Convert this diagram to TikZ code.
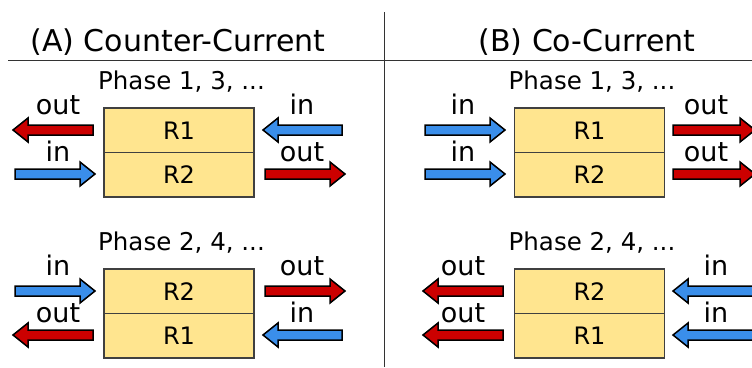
\documentclass[tikz,border=0pt]{standalone}
\usepackage{fontspec}
\setmainfont{DejaVu Sans}
\definecolor{boxfill}{HTML}{FFE58F}
\definecolor{boxline}{HTML}{404040}
\definecolor{hotred}{HTML}{CC0000}
\definecolor{coldblue}{HTML}{3A8EEA}
\definecolor{rule}{HTML}{333333}

% thick outlined block arrow: #1 fill colour, #2 tail x, #3 tip x, #4 centre y
\newcommand\flowarrow[4]{%
  \pgfmathsetmacro\arrdir{ifthenelse(#3>#2,1,-1)}%
  \pgfmathsetmacro\headbase{#3-\arrdir*15}%
  \draw[arrowbody,fill=#1]
    (#2,#4-5) -- (\headbase,#4-5) -- (\headbase,#4-12) -- (#3,#4)
    -- (\headbase,#4+12) -- (\headbase,#4+5) -- (#2,#4+5) -- cycle;}

\tikzset{
  title/.style={font=\fontsize{30}{36}\selectfont, anchor=base},
  phase/.style={font=\fontsize{24.5}{29}\selectfont, anchor=base},
  flowlabel/.style={font=\fontsize{27}{32}\selectfont, anchor=base, inner sep=0pt},
  reactor/.style={draw=boxline, line width=1.1pt, fill=boxfill,
    minimum width=150pt, minimum height=44.5pt, inner sep=0pt,
    font=\fontsize{24}{28}\selectfont},
  arrowbody/.style={draw=black, line width=1.5pt, line join=miter},
  divider/.style={draw=rule, line width=1pt},
}

\begin{document}
\begin{tikzpicture}[x=1pt, y=-1pt]
\useasboundingbox (0,0) rectangle (752,367);

% frame lines
\coordinate (vtop) at (384,12);
\coordinate (vbot) at (384,367);
\coordinate (hleft) at (8,60);
\coordinate (hright) at (752,60);
\draw[divider] (vtop) -- (vbot);
\draw[divider] (hleft) -- (hright);

% headings
\node[title] (titleA) at (178,51) {(A) Counter-Current};
\node[title] (titleB) at (587,51) {(B) Co-Current};

% ---------- (A) counter-current ----------
\node[phase] (pA1) at (181.5,89) {Phase 1, 3, ...};
\node[reactor] (A1top) at (179,130.25) {R1};
\node[reactor] (A1bot) at (179,174.75) {R2};
\flowarrow{hotred}{93}{13}{130}
\flowarrow{coldblue}{15}{95}{174}
\flowarrow{coldblue}{342}{263}{130}
\flowarrow{hotred}{265}{345}{174}
\node[flowlabel] (lA1a) at (58,114) {out};
\node[flowlabel] (lA1b) at (58,161) {in};
\node[flowlabel] (lA1c) at (302,114) {in};
\node[flowlabel] (lA1d) at (302,161) {out};

\node[phase] (pA2) at (181.5,250) {Phase 2, 4, ...};
\node[reactor] (A2top) at (179,291.25) {R2};
\node[reactor] (A2bot) at (179,335.75) {R1};
\flowarrow{coldblue}{15}{95}{291}
\flowarrow{hotred}{93}{13}{335}
\flowarrow{hotred}{265}{345}{291}
\flowarrow{coldblue}{342}{263}{335}
\node[flowlabel] (lA2a) at (58,275) {in};
\node[flowlabel] (lA2b) at (58,322) {out};
\node[flowlabel] (lA2c) at (302,275) {out};
\node[flowlabel] (lA2d) at (302,322) {in};

% ---------- (B) co-current ----------
\node[phase] (pB1) at (592,89) {Phase 1, 3, ...};
\node[reactor] (B1top) at (589.5,130.25) {R1};
\node[reactor] (B1bot) at (589.5,174.75) {R2};
\flowarrow{coldblue}{425}{505}{130}
\flowarrow{coldblue}{425}{505}{174}
\flowarrow{hotred}{673}{755}{130}
\flowarrow{hotred}{673}{755}{174}
\node[flowlabel] (lB1a) at (463,114) {in};
\node[flowlabel] (lB1b) at (463,161) {in};
\node[flowlabel] (lB1c) at (706,114) {out};
\node[flowlabel] (lB1d) at (706,161) {out};

\node[phase] (pB2) at (592,250) {Phase 2, 4, ...};
\node[reactor] (B2top) at (589.5,291.25) {R2};
\node[reactor] (B2bot) at (589.5,335.75) {R1};
\flowarrow{hotred}{503}{423}{291}
\flowarrow{hotred}{503}{423}{335}
\flowarrow{coldblue}{755}{673}{291}
\flowarrow{coldblue}{755}{673}{335}
\node[flowlabel] (lB2a) at (463,275) {out};
\node[flowlabel] (lB2b) at (463,322) {out};
\node[flowlabel] (lB2c) at (716,275) {in};
\node[flowlabel] (lB2d) at (716,322) {in};
\end{tikzpicture}
\end{document}
